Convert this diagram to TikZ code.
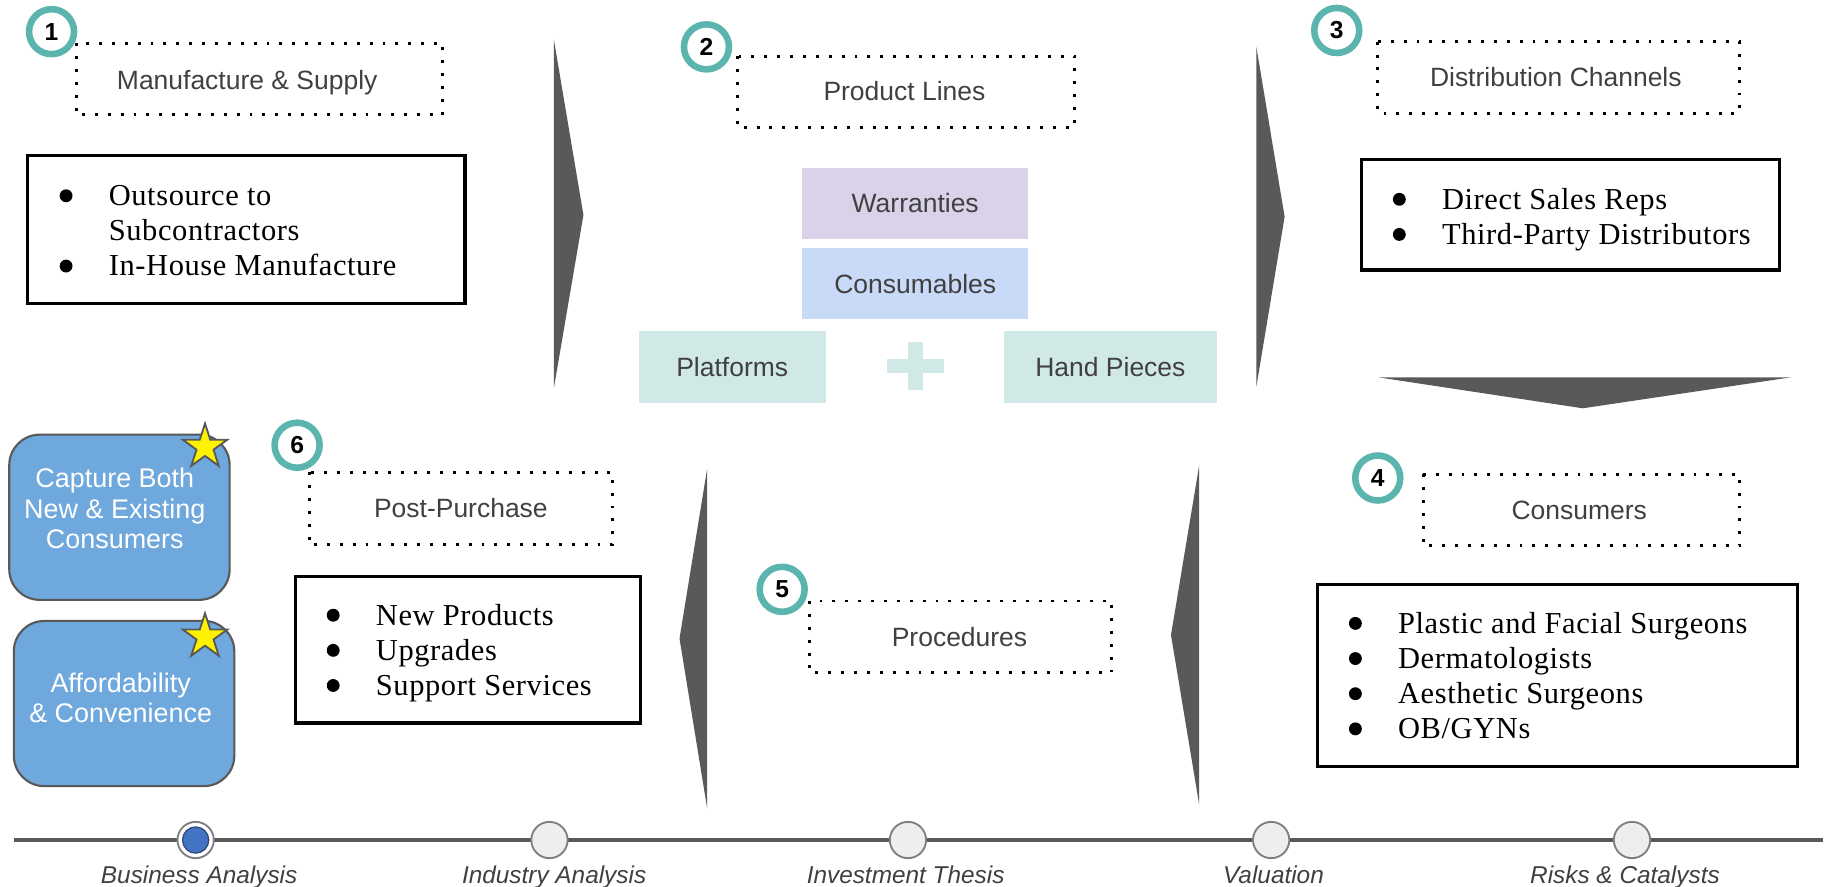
\documentclass[tikz,border=0pt]{standalone}
\usepackage{fontspec}
\setmainfont{Liberation Serif}
\setsansfont{Liberation Sans}
\newfontfamily\listfont{Liberation Serif}[LetterSpace=2]
\usepackage{tikz}
\usetikzlibrary{
  positioning,
  shapes.geometric
}
\usepackage{xcolor}

\definecolor{chevgray}{HTML}{595959}
\definecolor{hdgray}{HTML}{404040}
\definecolor{ringteal}{HTML}{5BB5AE}
\definecolor{warrfill}{HTML}{D9D2E9}
\definecolor{consfill}{HTML}{C9DAF8}
\definecolor{platfill}{HTML}{D0E9E6}
\definecolor{capblue}{HTML}{6FA8DC}
\definecolor{stopblue}{HTML}{4472C4}
\definecolor{stopgray}{HTML}{EEEEEE}

\newcommand{\bul}{\makebox[21pt][l]{\tikz[baseline=0pt]\fill (0pt,4.2pt) circle[radius=2.75pt];}}
\newcommand{\bulgap}{\hspace*{21pt}}

\tikzset{
  dotbox/.style={line width=1.25pt, dash pattern=on 1.25pt off 4.25pt},
  listbox/.style={line width=1.4pt},
  numring/.style={circle, draw=ringteal, line width=2.8pt, fill=white, minimum size=19.2pt, inner sep=0pt, font=\sffamily\bfseries\fontsize{10.5}{12}\selectfont},
  hdtxt/.style={font=\sffamily\fontsize{11.3}{13}\selectfont, text=hdgray, text height=8.1pt, text depth=0pt, inner sep=0pt},
  bullist/.style={font=\listfont\fontsize{13}{15}\selectfont, inner sep=0pt},
  prodbox/.style={hdtxt, minimum height=30.5pt},
  capbox/.style={draw=chevgray, fill=capblue, line width=0.9pt, rounded corners=13pt},
  captxt/.style={font=\sffamily\fontsize{11.5}{13}\selectfont, text=white, align=center, inner sep=0pt},
  capstar/.style={star, star points=5, star point ratio=2.618, minimum size=20pt, inner sep=0pt, draw=chevgray, fill=yellow, line width=0.8pt},
  chev/.style={fill=chevgray},
  tlstop/.style={circle, draw=gray, fill=stopgray, line width=0.8pt, minimum size=15.5pt, inner sep=0pt},
  tllbl/.style={font=\sffamily\itshape\fontsize{10.4}{12}\selectfont, text=hdgray, text height=7.5pt, text depth=0pt, inner sep=0pt}
}

\begin{document}
\begin{tikzpicture}[x=0.5pt, y=-0.5pt]

	\useasboundingbox (0,0) rectangle (1568,757);

	\fill[chev] (472.8,34) -- (498,183.5) -- (472.8,331) -- cycle;
	\fill[chev] (1072.4,40) -- (1096.5,185) -- (1072.4,330) -- cycle;
	\fill[chev] (1176,322) -- (1529,322) -- (1351,348.5) -- cycle;
	\fill[chev] (1023.6,397) -- (999.5,542) -- (1023.6,687) -- cycle;
	\fill[chev] (603.6,400) -- (580,545) -- (603.6,690) -- cycle;

	\draw[dotbox] (65,37) rectangle (378,98);
	\draw[dotbox] (629.5,48) rectangle (917,108.7);
	\draw[dotbox] (1176,35.6) rectangle (1484.7,96.7);
	\draw[dotbox] (1215,405) rectangle (1485,466);
	\draw[dotbox] (691,513) rectangle (949,574);
	\draw[dotbox] (264,403) rectangle (523,465);

	\node[hdtxt] (mfghd) at (211,68) {Manufacture \& Supply};
	\node[hdtxt] (prodhd) at (772,78) {Product Lines};
	\node[hdtxt] (disthd) at (1328,66) {Distribution Channels};
	\node[hdtxt] (conshd) at (1348,435) {Consumers};
	\node[hdtxt] (prochd) at (819,543.5) {Procedures};
	\node[hdtxt] (posthd) at (393.4,434) {Post-Purchase};

	\node[numring] (num1) at (44,27) {1};
	\node[numring] (num2) at (603,40) {2};
	\node[numring] (num3) at (1141,26) {3};
	\node[numring] (num4) at (1176,408) {4};
	\node[numring] (num5) at (667.6,503) {5};
	\node[numring] (num6) at (253.6,380) {6};

	\draw[listbox] (23.6,133) rectangle (397,259);
	\draw[listbox] (1162,136) rectangle (1519,230.5);
	\draw[listbox] (1124.5,499) rectangle (1534,654);
	\draw[listbox] (252.5,492) rectangle (547,617);

	\node[bullist, anchor=base west] (mfglist) at (50.5,175.5) {\begin{tabular}[t]{@{}l@{}}\bul Outsource to\\\bulgap Subcontractors\\\bul In-House Manufacture\end{tabular}};
	\node[bullist, anchor=base west] (distlist) at (1188.5,178.5) {\begin{tabular}[t]{@{}l@{}}\bul Direct Sales Reps\\\bul Third-Party Distributors\end{tabular}};
	\node[bullist, anchor=base west] (conslist) at (1151,540.5) {\begin{tabular}[t]{@{}l@{}}\bul Plastic and Facial Surgeons\\\bul Dermatologists\\\bul Aesthetic Surgeons\\\bul OB/GYNs\end{tabular}};
	\node[bullist, anchor=base west] (postlist) at (278.5,533.5) {\begin{tabular}[t]{@{}l@{}}\bul New Products\\\bul Upgrades\\\bul Support Services\end{tabular}};

	\node[prodbox, fill=warrfill, minimum width=96.5pt] (warr) at (781.2,173.5) {Warranties};
	\node[prodbox, fill=consfill, minimum width=96.5pt, minimum height=30.3pt] (cons) at (781.2,242.3) {Consumables};
	\node[prodbox, fill=platfill, minimum width=80pt, minimum height=30.75pt] (plat) at (625,313.25) {Platforms};
	\node[prodbox, fill=platfill, minimum width=90.8pt, minimum height=30.75pt] (hand) at (947.8,313.25) {Hand Pieces};
	\fill[platfill] (757,306) rectangle (806,318.6);
	\fill[platfill] (775,292) rectangle (788,333);

	\draw[capbox] (7.9,371) rectangle (196,512);
	\draw[capbox] (11.8,530) rectangle (200,671);
	\node[captxt] (captxt1) at (98,434) {Capture Both\\New \& Existing\\Consumers};
	\node[captxt] (captxt2) at (103,595.8) {Affordability\\\& Convenience};
	\node[capstar] (capstar1) at (175,381.5) {};
	\node[capstar] (capstar2) at (175,543.5) {};

	\draw[line width=2pt, chevgray] (12,717) -- (1556,717);
	\node[tlstop, fill=white] (tl1) at (167,717) {};
	\filldraw[fill=stopblue, draw=stopblue!60!black, line width=0.5pt] (tl1.center) circle[radius=5.6pt];
	\node[tlstop] (tl2) at (469,717) {};
	\node[tlstop] (tl3) at (775,717) {};
	\node[tlstop] (tl4) at (1085,717) {};
	\node[tlstop] (tl5) at (1393,717) {};

	\node[tllbl] (tllbl1) at (170,747) {Business Analysis};
	\node[tllbl] (tllbl2) at (473,747) {Industry Analysis};
	\node[tllbl] (tllbl3) at (773,747) {Investment Thesis};
	\node[tllbl] (tllbl4) at (1087,747) {Valuation};
	\node[tllbl] (tllbl5) at (1387,747) {Risks \& Catalysts};

\end{tikzpicture}
\end{document}
